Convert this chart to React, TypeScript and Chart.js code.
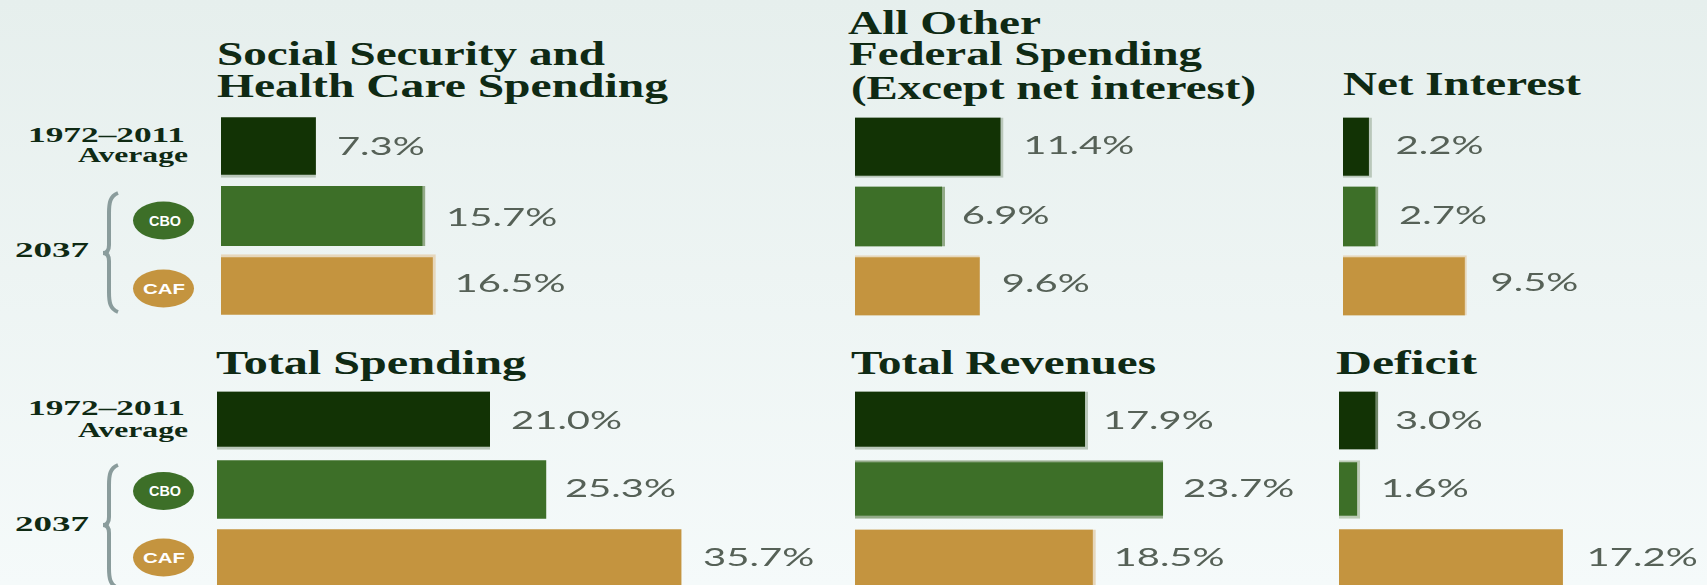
import React, { useEffect, useRef } from "react";
import { Chart, registerables } from "chart.js";

Chart.register(...registerables);

const categories = ["1972–2011 Average", "2037 CBO", "2037 CAF"];

const socialSecurityHealth = [7.3, 15.7, 16.5];
const allOtherFederal = [11.4, 6.9, 9.6];
const netInterest = [2.2, 2.7, 9.5];
const totalSpending = [21.0, 25.3, 35.7];
const totalRevenues = [17.9, 23.7, 18.5];
const deficit = [3.0, 1.6, 17.2];

const PX_PER_UNIT = 13;
const fills = ["#123305", "#3d6f28", "#c4943f"];
const edges = ["#b9c7ba", "#93aa88", "#e6d7bc"];
const TEXT_STRETCH = 1.6;

type Side = { top?: number; right?: number; bottom?: number };
type Panel = {
  values: number[];
  left: number;
  top: number;
  width: number;
  height: number;
  thickness: number;
  borders: Side[];
  gaps: number[];
  dy: number[];
  edgeColors?: string[];
};

const panels: Panel[] = [
  { values: socialSecurityHealth, left: 221, top: 112.5, width: 520, height: 206, thickness: 60,
    borders: [{ bottom: 3 }, { right: 3 }, { top: 3, right: 3 }], gaps: [21, 21, 19], dy: [7.5, 9.5, 7] },
  { values: allOtherFederal, left: 855, top: 113, width: 480, height: 207, thickness: 60,
    borders: [{ right: 3, bottom: 2 }, { right: 3 }, { top: 2 }], gaps: [20, 17, 22], dy: [6.5, 7, 6] },
  { values: netInterest, left: 1343, top: 113, width: 364, height: 207, thickness: 60,
    borders: [{ right: 3, bottom: 2 }, { right: 3 }, { top: 2, right: 2 }], gaps: [24, 21, 24], dy: [6.5, 7, 5] },
  { values: totalSpending, left: 217, top: 385.5, width: 620, height: 207, thickness: 58,
    borders: [{ bottom: 3 }, {}, {}], gaps: [21, 19, 22], dy: [8, 7.5, 7] },
  { values: totalRevenues, left: 855, top: 385.5, width: 480, height: 207, thickness: 58,
    borders: [{ right: 3, bottom: 3 }, { top: 2, bottom: 3 }, { right: 3 }], gaps: [15, 20, 18], dy: [8, 7.5, 7] },
  { values: deficit, left: 1339, top: 385.5, width: 368, height: 207, thickness: 58,
    borders: [{ right: 3 }, { top: 2, right: 3, bottom: 3 }, {}], gaps: [17, 21, 24], dy: [8, 7.5, 7],
    edgeColors: ["#6f8568", "#bccbb6", "#e6d7bc"] },
];

const titles = [
  { text: "Social Security and", x: 217, y: 65, w: 388 },
  { text: "Health Care Spending", x: 217, y: 97, w: 451 },
  { text: "All Other", x: 848, y: 34, w: 193 },
  { text: "Federal Spending", x: 849, y: 65, w: 353 },
  { text: "(Except net interest)", x: 851, y: 99, w: 405 },
  { text: "Net Interest", x: 1343, y: 95, w: 238 },
  { text: "Total Spending", x: 216, y: 374, w: 310 },
  { text: "Total Revenues", x: 851, y: 374, w: 305 },
  { text: "Deficit", x: 1336, y: 374, w: 141 },
];

const rowGroups = [
  { periodY: 142, avgY: 162, yearY: 257, braceTop: 193, braceMid: 253, braceBottom: 312, cboY: 220.5, cafY: 288.5 },
  { periodY: 415, avgY: 437, yearY: 531, braceTop: 465, braceMid: 525, braceBottom: 588, cboY: 491, cafY: 557.5 },
];

const valueLabels = {
  id: "valueLabels",
  afterDatasetsDraw(chart: any, _a: any, opts: any) {
    const { ctx } = chart;
    const meta = chart.getDatasetMeta(0);
    const values = chart.data.datasets[0].data as number[];
    ctx.save();
    ctx.font = '25px Lato';
    ctx.fillStyle = "#566157";
    ctx.textBaseline = "alphabetic";
    ctx.textAlign = "left";
    meta.data.forEach((bar: any, i: number) => {
      ctx.save();
      ctx.translate(bar.x + opts.gaps[i], bar.y + opts.dy[i]);
      ctx.scale(TEXT_STRETCH, 1);
      ctx.fillText(`${values[i].toFixed(1)}%`, 0, 0);
      ctx.restore();
    });
    ctx.restore();
  },
};

function PanelChart({ panel }: { panel: Panel }) {
  const ref = useRef<HTMLCanvasElement>(null);
  useEffect(() => {
    const colors = panel.edgeColors ?? edges;
    const chart = new Chart(ref.current as HTMLCanvasElement, {
      type: "bar",
      data: {
        labels: categories,
        datasets: [
          {
            data: panel.values,
            backgroundColor: fills,
            borderColor: colors,
            borderWidth: (c: any) => {
              const s = panel.borders[c.dataIndex] ?? {};
              return { top: s.top ?? 0, right: s.right ?? 0, bottom: s.bottom ?? 0, left: 0 };
            },
            borderSkipped: false,
            barThickness: panel.thickness,
          },
        ],
      },
      options: {
        indexAxis: "y",
        responsive: false,
        animation: false,
        layout: { padding: 0 },
        scales: {
          x: { display: false, min: 0, max: panel.width / PX_PER_UNIT },
          y: { display: false },
        },
        plugins: {
          legend: { display: false },
          tooltip: { enabled: false },
          valueLabels: { gaps: panel.gaps, dy: panel.dy },
        } as any,
      },
      plugins: [valueLabels],
    });
    return () => chart.destroy();
  }, [panel]);
  return (
    <canvas
      ref={ref}
      width={panel.width}
      height={panel.height}
      style={{ position: "absolute", left: panel.left, top: panel.top, width: panel.width, height: panel.height }}
    />
  );
}

const serif = "'Liberation Serif', serif";

function Overlay() {
  return (
    <svg width={1707} height={585} style={{ position: "absolute", left: 0, top: 0 }}>
      {titles.map((t) => (
        <text key={t.text} x={t.x} y={t.y} textLength={t.w} lengthAdjust="spacingAndGlyphs"
          fontFamily={serif} fontWeight="bold" fontSize={33} fill="#0f2a14">{t.text}</text>
      ))}
      {rowGroups.map((g, i) => (
        <g key={i}>
          <text x={28} y={g.periodY} textLength={157} lengthAdjust="spacingAndGlyphs" fontFamily={serif} fontWeight="bold" fontSize={20} fill="#0f2a14">1972–2011</text>
          <text x={78} y={g.avgY} textLength={110} lengthAdjust="spacingAndGlyphs" fontFamily={serif} fontWeight="bold" fontSize={20} fill="#0f2a14">Average</text>
          <text x={15} y={g.yearY} textLength={74} lengthAdjust="spacingAndGlyphs" fontFamily={serif} fontWeight="bold" fontSize={20} fill="#0f2a14">2037</text>
          <path
            d={`M118 ${g.braceTop} C110 ${g.braceTop + 3} 109 ${g.braceTop + 10} 109 ${g.braceTop + 20} L109 ${g.braceMid - 8} C109 ${g.braceMid - 3} 107 ${g.braceMid} 103 ${g.braceMid} C107 ${g.braceMid} 109 ${g.braceMid + 3} 109 ${g.braceMid + 8} L109 ${g.braceBottom - 20} C109 ${g.braceBottom - 10} 110 ${g.braceBottom - 3} 118 ${g.braceBottom}`}
            fill="none" stroke="#8a9c9c" strokeWidth={4}
          />
          <ellipse cx={163.5} cy={g.cboY} rx={30.5} ry={19} fill={fills[1]} />
          <text x={149} y={g.cboY + 5} textLength={32} lengthAdjust="spacingAndGlyphs" fontFamily="'Liberation Sans', sans-serif" fontWeight="bold" fontSize={14} fill="#ffffff">CBO</text>
          <ellipse cx={163.5} cy={g.cafY} rx={30.5} ry={19} fill={fills[2]} />
          <text x={143} y={g.cafY + 5} textLength={42} lengthAdjust="spacingAndGlyphs" fontFamily="'Liberation Sans', sans-serif" fontWeight="bold" fontSize={14} fill="#ffffff">CAF</text>
        </g>
      ))}
    </svg>
  );
}

export default function App() {
  return (
    <div
      style={{
        position: "fixed",
        left: 0,
        top: 0,
        width: 1707,
        height: 585,
        overflow: "hidden",
        background: "linear-gradient(180deg, #e6efed 0%, #f5fafa 100%)",
      }}
    >
      <Overlay />
      {panels.map((p, i) => (
        <PanelChart key={i} panel={p} />
      ))}
    </div>
  );
}
